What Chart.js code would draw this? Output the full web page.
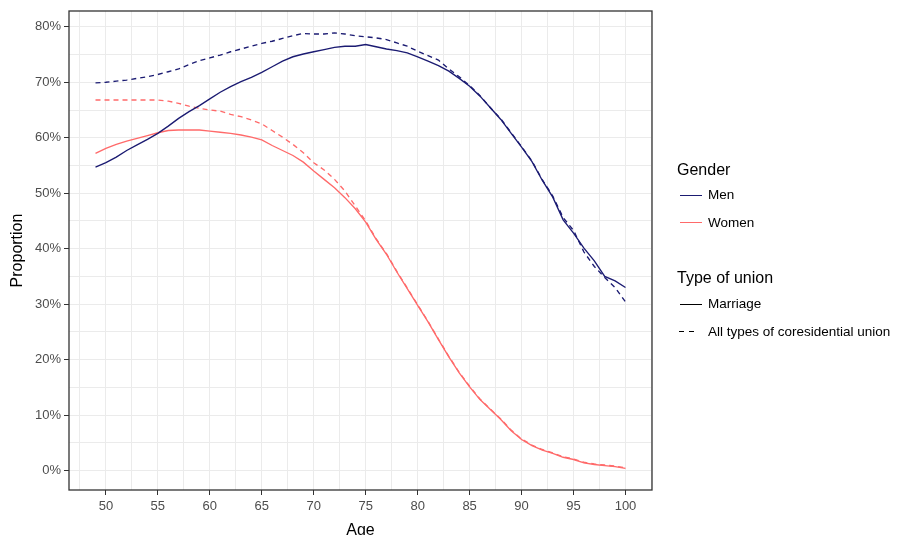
<!DOCTYPE html>
<html>
<head>
<meta charset="utf-8">
<script src="https://cdn.jsdelivr.net/npm/chart.js@4.4.0/dist/chart.umd.min.js"></script>
<style>
  body { margin: 0; background: #fff; }
  #wrap { position: relative; width: 904px; height: 535px; font-family: "Liberation Sans", Arial, sans-serif; }
  #wrap canvas { position: absolute; left: 0; top: 0; }
  .lg { position: absolute; white-space: nowrap; color: #000; }
  .lg-title { font-size: 16px; line-height: 18px; }
  .lg-item { font-size: 13.5px; line-height: 16px; }
  .key { position: absolute; height: 1.3px; }
</style>
</head>
<body>
<div id="wrap">
  <canvas id="chartLine"></canvas>

  <div class="lg lg-title" style="left:677px;top:161px;">Gender</div>
  <div class="key" style="left:680px;top:194.5px;width:22px;background:#1b1b72;"></div>
  <div class="lg lg-item" style="left:708px;top:187px;">Men</div>
  <div class="key" style="left:680px;top:222px;width:22px;background:#ff6a6a;"></div>
  <div class="lg lg-item" style="left:708px;top:215px;">Women</div>

  <div class="lg lg-title" style="left:677px;top:269px;">Type of union</div>
  <div class="key" style="left:680px;top:303.5px;width:22px;background:#000;"></div>
  <div class="lg lg-item" style="left:708px;top:296px;">Marriage</div>
  <div class="key" style="left:679px;top:331px;width:15px;background:repeating-linear-gradient(to right,#000 0 5px,transparent 5px 10px);"></div>
  <div class="lg lg-item" style="left:708px;top:324px;">All types of coresidential union</div>
</div>

<script>
// ages on the x axis
const ages = [49, 50, 51, 52, 53, 54, 55, 56, 57, 58, 59, 60, 61, 62, 63, 64, 65, 66, 67, 68, 69, 70,
  71, 72, 73, 74, 75, 76, 77, 78, 79, 80, 81, 82, 83, 84, 85, 86, 87, 88, 89, 90,
  91, 92, 93, 94, 95, 96, 97, 98, 99, 100];

// proportions in %
const menMarriage = [54.7, 55.5, 56.5, 57.7, 58.7, 59.7, 60.8, 62.1, 63.5, 64.7, 65.8, 67.0, 68.2, 69.2, 70.1, 70.9,
  71.8, 72.8, 73.8, 74.6, 75.1, 75.5, 75.9, 76.3, 76.5, 76.5, 76.8, 76.4, 76.0, 75.7, 75.3, 74.6,
  73.8, 73.0, 72.0, 70.7, 69.3, 67.5, 65.4, 63.3, 60.8, 58.3, 55.7, 52.3, 49.3, 45.2, 42.8, 40.1,
  37.8, 35.0, 34.2, 33.0];
const menAllUnions = [69.9, 70.0, 70.2, 70.4, 70.7, 71.0, 71.4, 71.9, 72.4, 73.2, 73.9, 74.4, 74.9, 75.5, 76.0, 76.5,
  77.0, 77.4, 77.9, 78.4, 78.8, 78.7, 78.7, 78.9, 78.7, 78.4, 78.2, 78.0, 77.7, 77.1, 76.5, 75.6,
  74.8, 74.0, 72.4, 71.0, 69.4, 67.6, 65.4, 63.4, 60.9, 58.4, 55.8, 52.4, 49.5, 45.6, 43.3, 39.4,
  36.8, 34.8, 33.0, 30.4];
const womenMarriage = [57.2, 58.1, 58.8, 59.4, 59.9, 60.4, 60.9, 61.3, 61.4, 61.4, 61.4, 61.2, 61.0, 60.8, 60.5, 60.1,
  59.6, 58.6, 57.7, 56.8, 55.6, 54.0, 52.5, 51.0, 49.2, 47.2, 44.8, 41.7, 39.0, 35.8, 32.8, 29.8,
  26.8, 23.6, 20.5, 17.6, 15.1, 12.8, 11.0, 9.2, 7.2, 5.6, 4.5, 3.7, 3.1, 2.4, 2.0, 1.4,
  1.1, 0.9, 0.7, 0.4];
const womenAllUnions = [66.8, 66.8, 66.8, 66.8, 66.8, 66.8, 66.8, 66.6, 66.2, 65.7, 65.3, 65.0, 64.8, 64.2, 63.8, 63.2,
  62.5, 61.3, 60.1, 58.8, 57.3, 55.5, 54.2, 52.5, 50.4, 47.7, 45.0, 41.8, 39.1, 35.9, 32.9, 29.9,
  26.9, 23.7, 20.6, 17.7, 15.2, 12.9, 11.1, 9.3, 7.3, 5.7, 4.6, 3.8, 3.2, 2.5, 2.1, 1.5,
  1.2, 1.0, 0.8, 0.5];

// grid positions (major + minor), labels only on the majors
const xTicks = [47.5, 50, 52.5, 55, 57.5, 60, 62.5, 65, 67.5, 70, 72.5, 75, 77.5, 80, 82.5, 85, 87.5, 90, 92.5, 95, 97.5, 100, 102.5];
const yTicks = [0, 5, 10, 15, 20, 25, 30, 35, 40, 45, 50, 55, 60, 65, 70, 75, 80];

const NAVY = '#1b1b72';
const SALMON = '#ff6a6a';

function points(vals) {
  return ages.map((a, i) => ({ x: a, y: vals[i] }));
}

function line(vals, color, dashed) {
  return {
    data: points(vals),
    borderColor: color,
    backgroundColor: color,
    borderWidth: 1.35,
    borderDash: dashed ? [5, 4] : [],
    pointRadius: 0,
    tension: 0,
    fill: false
  };
}

const panelBorder = {
  id: 'panelBorder',
  afterDraw(chart) {
    const { ctx, chartArea: a } = chart;
    ctx.save();
    ctx.strokeStyle = '#333';
    ctx.lineWidth = 1.3;
    ctx.strokeRect(a.left, a.top, a.right - a.left, a.bottom - a.top);
    ctx.restore();
  }
};

const tickFont = { family: '"Liberation Sans", Arial, sans-serif', size: 13 };
const titleFont = { family: '"Liberation Sans", Arial, sans-serif', size: 16 };

new Chart(document.getElementById('chartLine'), {
  type: 'line',
  data: {
    datasets: [
      line(menMarriage, NAVY, false),
      line(menAllUnions, NAVY, true),
      line(womenMarriage, SALMON, false),
      line(womenAllUnions, SALMON, true)
    ]
  },
  options: {
    responsive: true,
    maintainAspectRatio: false,
    devicePixelRatio: 1,
    animation: false,
    layout: { padding: { left: 0, right: 252, top: 11, bottom: 0 } },
    plugins: { legend: { display: false }, tooltip: { enabled: false } },
    scales: {
      x: {
        type: 'linear',
        min: 46.45,
        max: 102.55,
        afterBuildTicks: s => { s.ticks = xTicks.map(v => ({ value: v })); },
        afterFit: s => { s.height = 45; },
        ticks: {
          autoSkip: false, maxRotation: 0, minRotation: 0, padding: 4,
          color: '#4d4d4d', font: tickFont,
          callback: v => (v % 5 === 0 ? String(v) : '')
        },
        grid: {
          color: '#ebebeb', lineWidth: 1, tickLength: 5, tickWidth: 1,
          tickColor: c => (c.tick && c.tick.value % 5 === 0 ? '#333' : 'rgba(0,0,0,0)')
        },
        border: { display: false },
        title: { display: true, text: 'Age', color: '#000', font: Object.assign({ lineHeight: 0.5 }, titleFont), padding: 0 }
      },
      y: {
        min: -3.5,
        max: 82.85,
        afterBuildTicks: s => { s.ticks = yTicks.map(v => ({ value: v })); },
        afterFit: s => { s.width = 69; },
        ticks: {
          autoSkip: false, padding: 3,
          color: '#4d4d4d', font: tickFont,
          callback: v => (v % 10 === 0 ? v + '%' : '')
        },
        grid: {
          color: '#ebebeb', lineWidth: 1, tickLength: 5, tickWidth: 1,
          tickColor: c => (c.tick && c.tick.value % 10 === 0 ? '#333' : 'rgba(0,0,0,0)')
        },
        border: { display: false },
        title: { display: true, text: 'Proportion', color: '#000', font: titleFont, padding: { top: 8, bottom: 0 } }
      }
    }
  },
  plugins: [panelBorder]
});
</script>
</body>
</html>
